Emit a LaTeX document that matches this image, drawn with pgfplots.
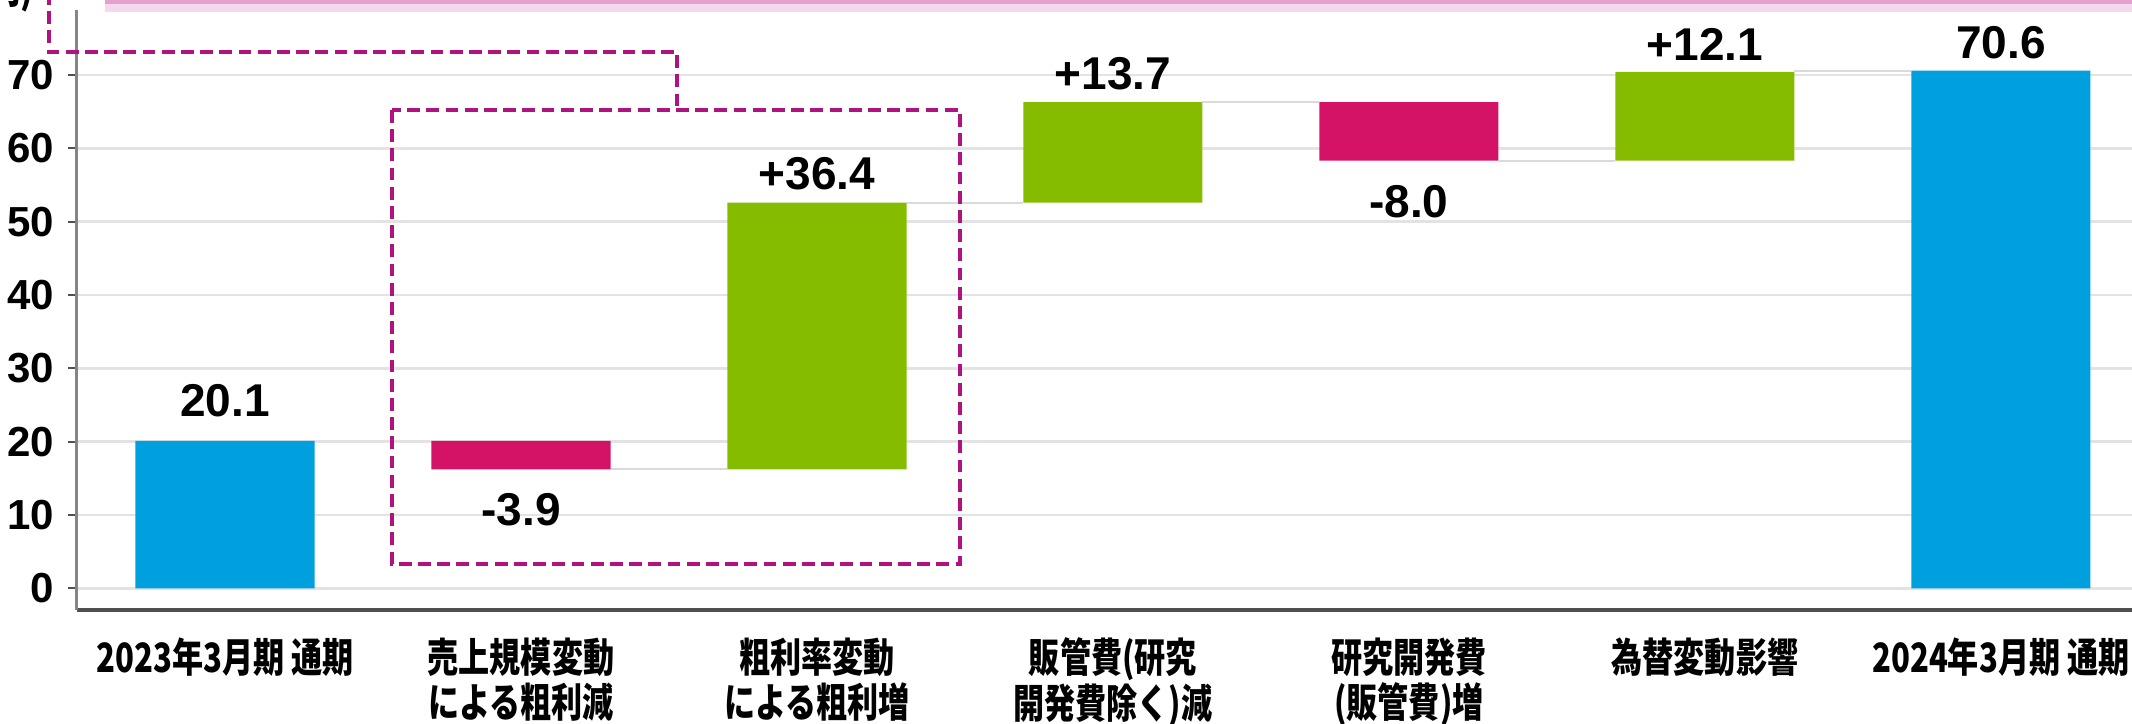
\documentclass[border=0pt]{standalone}
\usepackage{pgfplots}
\usepackage{pgfplotstable}
\pgfplotsset{compat=1.18}
\usepackage{fontspec}
\setmainfont{Liberation Sans}
\newfontfamily\cjk{Noto Sans CJK JP}[FakeStretch=0.77]
\definecolor{cblue}{HTML}{00A0DE}
\definecolor{cpink}{HTML}{D41367}
\definecolor{cgreen}{HTML}{86BC00}
\definecolor{cdash}{HTML}{B0137F}
\definecolor{gridc}{HTML}{E3E3E3}
\definecolor{axgray}{HTML}{858585}
\definecolor{axdark}{HTML}{505050}
\definecolor{conn}{HTML}{DADADA}
\definecolor{pinkA}{HTML}{E6A0CF}
\definecolor{pinkB}{HTML}{F4D8EB}

\pgfplotstableread{
x base blue pink green
0 0 20.1 0 0
1 16.2 0 3.9 0
2 16.2 0 0 36.4
3 52.6 0 0 13.7
4 58.3 0 8.0 0
5 58.3 0 0 12.1
6 0 70.6 0 0
}\wf

\begin{document}
\begin{tikzpicture}
\useasboundingbox (0,0) rectangle (533pt,181pt);
\pgfplotsset{common/.style={
  at={(19.25pt,28.5pt)}, anchor=south west, scale only axis,
  width=513.75pt, height=150pt,
  xmin=-0.5, xmax=6.443, ymin=-2.96, ymax=78.86}}
\begin{axis}[common,
  ybar stacked, bar width=0.605,
  xtick={0,...,6},
  xticklabels={{2023年3月期 通期},{売上規模変動\\による粗利減},{粗利率変動\\による粗利増},{販管費(研究\\開発費除く)減},{研究開発費\\(販管費)増},{為替変動影響},{2024年3月期 通期}},
  ytick={0,10,...,70},
  axis x line*=bottom, axis y line*=left,
  x axis line style={draw=axdark, line width=0.8pt, -},
  y axis line style={draw=axgray, line width=0.75pt, -},
  ymajorgrids, grid style={gridc, line width=0.7pt},
  tick align=outside, major tick length=2.2pt,
  ytick style={draw=axdark, line width=0.5pt},
  xtick style={draw=none},
  /pgf/number format/assume math mode=true,
  yticklabel style={font=\fontsize{10.5}{12}\selectfont\bfseries},
  xticklabel style={font=\cjk\bfseries\fontsize{10.1}{11.4}\selectfont, align=center, anchor=north, yshift=-1.2pt},
]
\addplot[draw=none, fill=none] table[x=x, y=base] {\wf};
\addplot[draw=none, fill=cblue] table[x=x, y=blue] {\wf};
\addplot[draw=none, fill=cpink] table[x=x, y=pink] {\wf};
\addplot[draw=none, fill=cgreen] table[x=x, y=green] {\wf};
\end{axis}
\begin{axis}[common, hide axis, clip=false]
\addplot[conn, line width=0.5pt] coordinates {(1.3025,16.2) (1.6975,16.2)};
\addplot[conn, line width=0.5pt] coordinates {(2.3025,52.6) (2.6975,52.6)};
\addplot[conn, line width=0.5pt] coordinates {(3.3025,66.3) (3.6975,66.3)};
\addplot[conn, line width=0.5pt] coordinates {(4.3025,58.3) (4.6975,58.3)};
\addplot[conn, line width=0.5pt] coordinates {(5.3025,70.6) (5.6975,70.6)};
\begin{scope}[every node/.style={font=\fontsize{11.5}{13}\selectfont\bfseries}]
\node at (axis cs:0,20.1) [yshift=10pt] {20.1};
\node at (axis cs:1,16.2) [yshift=-10pt] {-3.9};
\node at (axis cs:2,52.6) [yshift=7.2pt] {+36.4};
\node at (axis cs:3,66.3) [yshift=7.2pt] {+13.7};
\node at (axis cs:4,58.3) [yshift=-10.3pt] {-8.0};
\node at (axis cs:5,70.4) [yshift=7pt] {+12.1};
\node at (axis cs:6,70.6) [yshift=7pt] {70.6};
\end{scope}
\end{axis}
\fill[pinkB] (26.25pt,178pt) rectangle (534pt,182pt);
\fill[pinkA] (26.25pt,180pt) rectangle (534pt,182pt);
\node[anchor=base east, inner sep=0pt, font=\cjk\bfseries\fontsize{10.5}{12}\selectfont] at (8.6pt,180.2pt) {(億円)};
\begin{scope}[cdash, line width=1.1pt, dash pattern=on 3.2pt off 1.6pt]
\draw (12.25pt,183pt) -- (12.25pt,168pt) -- (169.25pt,168pt) -- (169.25pt,153.5pt);
\draw (98pt,153.5pt) rectangle (240pt,40pt);
\end{scope}
\end{tikzpicture}
\end{document}
